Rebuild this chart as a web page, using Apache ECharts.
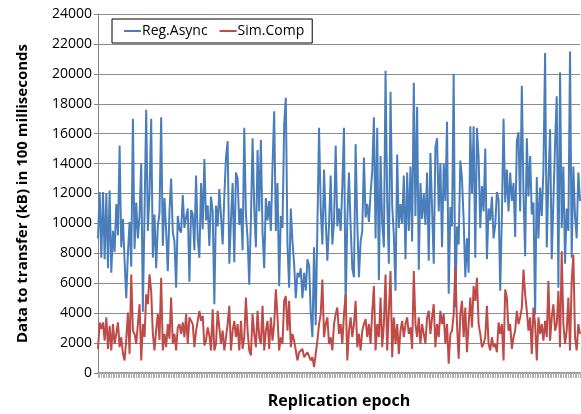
<!DOCTYPE html>
<html>
<head>
<meta charset="utf-8">
<script src="https://cdn.jsdelivr.net/npm/echarts@6/dist/echarts.min.js"></script>
<style>
  html, body { margin: 0; padding: 0; background: #fff; }
  #chart { width: 581px; height: 414px; }
</style>
</head>
<body>
<div id="chart"></div>
<script>
// values, one per replication epoch
let regAsync = [
    9000,12100,7700,12100,7600,12000,7000,12200,6700,9500,
    8100,11300,9200,15200,8400,10300,7500,5000,8000,10100,
    7100,17000,8300,11400,9000,10500,14000,4100,10700,17600,
    9500,12000,17000,7700,10600,7000,9800,10700,17100,8500,
    11700,9500,6800,10800,13000,9400,8800,5700,10500,9600,
    9400,11900,9700,10400,11000,6100,10900,10600,8200,13200,
    9000,7700,12700,9600,14300,10200,11200,8500,11800,10800,
    4600,11200,
    9800,12300,10500,8600,11800,14400,15500,7300,10200,12700,
    7400,13400,13000,9900,11000,8200,16400,10600,9000,5900,
    10300,15700,11000,8400,14900,10800,15600,9400,7000,11700,
    10200,11500,9500,13800,17500,9500,12700,5800,10500,9700,
    16600,18400,8600,5700,11000,8800,7300,5000,6700,6400,
    7000,5000,6700,5500,7600,7200,4000,2400,8400,3200,
    9800,16400,11000,8600,13600,10200,7500,9900,13200,8600,
    10100,15200,9800,
    11000,9500,12500,16400,4400,10300,13400,9800,7000,6400,
    15300,10000,6400,8800,9500,14400,10400,11300,10100,12000,
    13500,17100,9000,16400,6200,14500,10000,8400,20200,11500,
    7300,18800,11200,9200,5500,14600,9700,11300,10000,13200,
    7600,13400,9500,13800,8800,19400,10500,17800,6900,12700,
    10300,12000,9900,13400,7500,14700,11000,7300,15100,15700,
    10800,14000,8400,14000,11500,16800,5300,11100,9800,20000,
    4400,9800,8600,14200,13000,10200,6400,9000,6700,16500,
    12000,16500,7700,16400,14400,9700,12500,10800,15000,7600,
    11000,10200,11800,9000,9900,12100,11600,5500,10500,17000,
    11400,13600,10800,13400,11500,12700,9100,15500,16100,10800,
    19200,12000,7800,15700,11800,14500,10600,11400,3900,13100,
    9000,12400,10500,13600,21400,8400,12800,16300,7600,11500,
    15300,18500,5700,20100,9700,13800,7300,11000,9500,21500,
    7700,13800,10500,9000,13400,11500
];

let simComp = [
    1600,3380,2940,3380,2165,3715,1610,3160,1505,3270,
    1945,2610,3380,1725,2390,1280,840,2280,4045,1280,
    6590,2830,2610,1945,3270,4600,840,3270,2400,5260,
    4600,6590,5480,2610,1505,2900,3935,2200,6365,1505,
    2610,1725,3270,2300,5040,1945,2610,1505,3050,3270,
    2610,3380,2400,3935,1945,3715,3490,3270,1725,2800,
    3490,4155,3490,3825,1835,2165,3050,2500,1500,4265,
    1505,1945,
    4155,4045,1945,2830,1505,2390,3270,4490,1505,2830,
    3490,2390,3270,1505,3490,1610,2390,5040,2830,1505,
    1170,3935,2610,1725,4155,2390,1945,4490,1505,2830,
    3490,1610,3715,2165,3270,5590,3715,1505,2390,1945,
    4820,5150,2830,4820,1725,2610,2165,1505,840,1390,
    1280,1610,1060,1170,1390,1505,840,1060,400,1280,
    2165,3270,3935,6255,2390,3270,3715,1945,2390,1505,
    3270,3935,4375,
    2610,3270,1945,3935,5260,840,2830,3715,2390,3270,
    4820,1725,2610,1505,2830,3270,3600,2390,3270,1945,
    4045,5810,1505,3270,2390,5040,1725,3270,6590,1505,
    4155,6810,1060,3715,1945,3270,1280,2830,3490,2390,
    3270,3715,2610,3050,1610,6810,3270,2390,3715,1945,
    3270,2610,1945,3715,4155,2610,3715,4600,1725,3270,
    2390,4155,3270,3935,1945,3270,620,2610,2830,3935,
    7140,3270,950,3935,4820,2390,4375,1390,3270,5040,
    3050,5810,4820,6365,3270,2610,1725,1945,2390,4490,
    1945,1505,2390,1725,1945,1390,3380,2610,3270,840,
    5590,5040,2830,3270,1610,2390,2830,4155,3270,3715,
    4375,6920,5260,4155,2830,3715,1280,4375,3270,840,
    3715,2610,3270,2165,3490,2390,6145,2165,3715,4600,
    2830,3270,5480,1725,8130,3270,1945,2830,5040,1505,
    6145,7910,2390,1505,3270,2610
];

let epochs = regAsync.map((v, i) => i + 1);

let chart = echarts.init(document.getElementById('chart'));
let option = {
    animation: false,
    textStyle: { fontFamily: 'Open Sans' },
    grid: { left: 98, right: 1, top: 14, bottom: 38 },
    legend: {
        left: 112,
        top: 19,
        padding: [5, 8, 5, 12],
        backgroundColor: '#fff',
        borderColor: '#000',
        borderWidth: 1,
        itemGap: 12,
        itemWidth: 17,
        itemHeight: 2,
        icon: 'rect',
        textStyle: { fontSize: 14, color: '#000', padding: [0, 0, 0, -4] },
        data: ['Reg.Async', 'Sim.Comp']
    },
    xAxis: {
        type: 'category',
        data: epochs,
        boundaryGap: false,
        name: 'Replication epoch',
        nameLocation: 'middle',
        nameGap: 20,
        nameTextStyle: { fontSize: 16, fontWeight: 'bold', color: '#000' },
        axisLine: { lineStyle: { color: '#9a9a9a', width: 2 } },
        axisTick: { show: true, interval: 0, length: 5, lineStyle: { color: '#b0b0b0' } },
        axisLabel: { show: false }
    },
    yAxis: {
        type: 'value',
        min: 0,
        max: 24000,
        interval: 2000,
        name: 'Data to transfer (kB) in 100 milliseconds',
        nameLocation: 'middle',
        nameGap: 68,
        nameTextStyle: { fontSize: 15, fontWeight: 'bold', color: '#000' },
        axisLine: { show: true, lineStyle: { color: '#868686' } },
        axisTick: { show: true, length: 4, lineStyle: { color: '#868686' } },
        axisLabel: { fontSize: 14, color: '#000', margin: 6, formatter: v => String(v) },
        splitLine: { lineStyle: { color: '#8c8c8c', width: 1 } }
    },
    series: [
        {
            name: 'Reg.Async',
            type: 'line',
            data: regAsync,
            showSymbol: false,
            lineStyle: { color: '#4a7ebb', width: 2 },
            itemStyle: { color: '#4a7ebb' }
        },
        {
            name: 'Sim.Comp',
            type: 'line',
            data: simComp,
            showSymbol: false,
            lineStyle: { color: '#be4b48', width: 2 },
            itemStyle: { color: '#be4b48' }
        }
    ]
};
chart.setOption(option);
</script>
</body>
</html>
